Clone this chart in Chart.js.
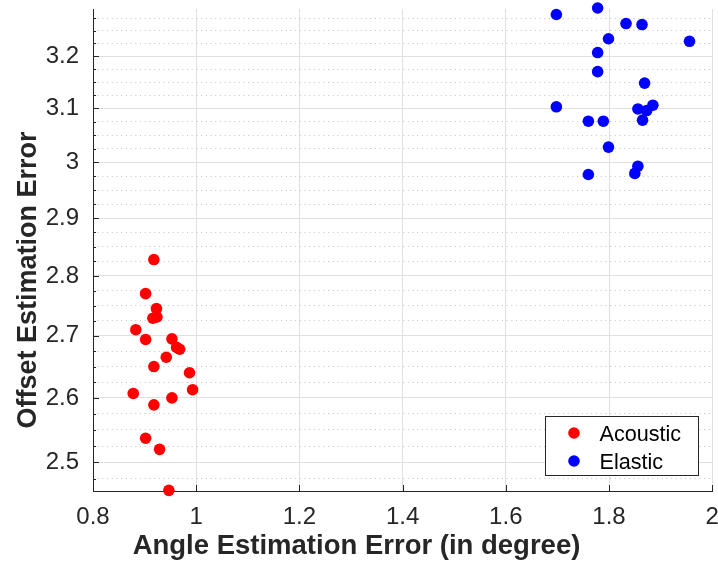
<!DOCTYPE html>
<html>
<head>
<meta charset="utf-8">
<script src="https://cdn.jsdelivr.net/npm/chart.js@4/dist/chart.umd.min.js"></script>
<style>
    html, body { margin: 0; padding: 0; background: #fff; }
    #wrap { width: 718px; height: 566px; position: relative; }
</style>
</head>
<body>
<div id="wrap"><canvas id="chartScatter"></canvas></div>
<script>
// values
const acousticX = [0.918, 0.902, 0.923, 0.916, 0.924, 0.883, 0.902, 0.953, 0.962, 0.968, 0.942, 0.918, 0.987, 0.993, 0.878, 0.953, 0.918, 0.902, 0.929, 0.947];
const acousticY = [2.828, 2.770, 2.745, 2.729, 2.731, 2.710, 2.694, 2.695, 2.681, 2.678, 2.665, 2.650, 2.640, 2.613, 2.607, 2.600, 2.589, 2.537, 2.520, 2.458];

const elasticX = [1.698, 1.778, 1.833, 1.864, 1.799, 1.956, 1.778, 1.778, 1.869, 1.698, 1.760, 1.789, 1.856, 1.885, 1.873, 1.865, 1.799, 1.856, 1.760, 1.850];
const elasticY = [3.282, 3.295, 3.264, 3.262, 3.234, 3.229, 3.207, 3.170, 3.148, 3.103, 3.076, 3.076, 3.099, 3.106, 3.096, 3.078, 3.028, 2.993, 2.978, 2.980];

const xTicks = [0.8, 1, 1.2, 1.4, 1.6, 1.8, 2];
const yTicks = [2.5, 2.6, 2.7, 2.8, 2.9, 3, 3.1, 3.2];
const yMinorTicks = [2.475, 2.525, 2.55, 2.575, 2.625, 2.65, 2.675, 2.725, 2.75, 2.775, 2.825, 2.85, 2.875,
    2.925, 2.95, 2.975, 3.025, 3.05, 3.075, 3.125, 3.15, 3.175, 3.225, 3.25, 3.275];

const xMin = 0.8, xMax = 2;
const yMin = 2.457, yMax = 3.293;

const axisColor = "#262626";
Chart.defaults.font.family = "'Liberation Sans', Arial, sans-serif";

function toPoints(xs, ys) {
    return xs.map((x, i) => ({ x: x, y: ys[i] }));
}

// no extra room for half labels at the axis ends
function noEndPadding(s) {
    s.paddingTop = 0;
    s.paddingBottom = 0;
    s.paddingLeft = 0;
    s.paddingRight = 0;
}

// inward tick marks, y title and the boxed legend (drawn the MATLAB way)
const axisDecor = {
    id: "axisDecor",
    beforeDatasetsDraw(chart) {
        const { ctx, chartArea, scales } = chart;
        ctx.save();
        ctx.strokeStyle = axisColor;
        ctx.lineWidth = 1;
        ctx.beginPath();
        yTicks.forEach(v => {
            const py = Math.round(scales.y.getPixelForValue(v)) + 0.5;
            ctx.moveTo(chartArea.left, py);
            ctx.lineTo(chartArea.left + 6, py);
        });
        yMinorTicks.forEach(v => {
            const py = Math.round(scales.y.getPixelForValue(v)) + 0.5;
            ctx.moveTo(chartArea.left, py);
            ctx.lineTo(chartArea.left + 3, py);
        });
        xTicks.forEach(v => {
            const px = Math.round(scales.x.getPixelForValue(v)) + 0.5;
            ctx.moveTo(px, chartArea.bottom);
            ctx.lineTo(px, chartArea.bottom - 6);
        });
        ctx.stroke();
        ctx.restore();
    },
    afterDraw(chart) {
        const { ctx, chartArea } = chart;
        ctx.save();

        // y axis title
        ctx.translate(36, chart.height / 2 - 3);
        ctx.rotate(-Math.PI / 2);
        ctx.font = "bold 27px 'Liberation Sans', Arial, sans-serif";
        ctx.fillStyle = axisColor;
        ctx.textAlign = "center";
        ctx.textBaseline = "alphabetic";
        ctx.fillText("Offset Estimation Error", 0, 0);
        ctx.setTransform(1, 0, 0, 1, 0, 0);

        // legend
        const bx = Math.round(chartArea.right - 167) + 0.5;
        const by = Math.round(chartArea.bottom - 75) + 0.5;
        const bw = 153, bh = 59;
        ctx.fillStyle = "#fff";
        ctx.fillRect(bx, by, bw, bh);
        ctx.strokeStyle = axisColor;
        ctx.lineWidth = 1;
        ctx.strokeRect(bx, by, bw, bh);
        ctx.font = "21.6px 'Liberation Sans', Arial, sans-serif";
        ctx.textAlign = "left";
        chart.data.datasets.forEach((ds, i) => {
            const cy = by + 16.5 + i * 28;
            ctx.beginPath();
            ctx.arc(bx + 28.5, cy, 5.8, 0, Math.PI * 2);
            ctx.fillStyle = ds.backgroundColor;
            ctx.fill();
            ctx.fillStyle = "#000";
            ctx.fillText(ds.label, bx + 54, cy + 7.5);
        });
        ctx.restore();
    }
};

const chart = new Chart(document.getElementById("chartScatter").getContext("2d"), {
    type: "scatter",
    data: {
        datasets: [
            {
                label: "Acoustic",
                data: toPoints(acousticX, acousticY),
                backgroundColor: "#ff0000",
                borderWidth: 0,
                pointRadius: 5.8,
                clip: false
            },
            {
                label: "Elastic",
                data: toPoints(elasticX, elasticY),
                backgroundColor: "#0000ff",
                borderWidth: 0,
                pointRadius: 5.8,
                clip: false
            }
        ]
    },
    options: {
        responsive: true,
        maintainAspectRatio: false,
        animation: false,
        devicePixelRatio: 1,
        layout: { padding: { top: 9, right: 5, left: 0, bottom: 0 } },
        plugins: {
            legend: { display: false },
            tooltip: { enabled: false },
            title: {
                display: true,
                position: "bottom",
                text: "Angle Estimation Error (in degree)",
                color: axisColor,
                font: { size: 27.5, weight: "bold" },
                padding: { top: 0, bottom: 3 }
            }
        },
        scales: {
            x: {
                type: "linear",
                min: xMin,
                max: xMax,
                afterBuildTicks: s => { s.ticks = xTicks.map(v => ({ value: v })); },
                afterFit: s => { s.height = 39; noEndPadding(s); },
                grid: { color: "#dfdfdf", lineWidth: 1, drawTicks: false },
                border: { color: axisColor, width: 1 },
                ticks: {
                    color: axisColor,
                    font: { size: 24 },
                    padding: 12,
                    maxRotation: 0,
                    callback: v => String(v)
                }
            },
            yMinor: {
                type: "logarithmic",
                position: "left",
                min: yMin,
                max: yMax,
                afterBuildTicks: s => { s.ticks = yMinorTicks.map(v => ({ value: v })); },
                afterFit: s => { s.width = 0; noEndPadding(s); },
                ticks: { display: false },
                grid: { color: "#c4c4c4", lineWidth: 1, drawTicks: false },
                border: { display: false, dash: [1, 3.7] }
            },
            y: {
                type: "logarithmic",
                position: "left",
                min: yMin,
                max: yMax,
                afterBuildTicks: s => { s.ticks = yTicks.map(v => ({ value: v })); },
                afterFit: s => { s.width = 93; noEndPadding(s); },
                grid: { color: "#dfdfdf", lineWidth: 1, drawTicks: false },
                border: { color: axisColor, width: 1 },
                ticks: {
                    color: axisColor,
                    font: { size: 24 },
                    padding: 14,
                    callback: v => String(+Number(v).toFixed(2))
                }
            }
        }
    },
    plugins: [axisDecor]
});
</script>
</body>
</html>
